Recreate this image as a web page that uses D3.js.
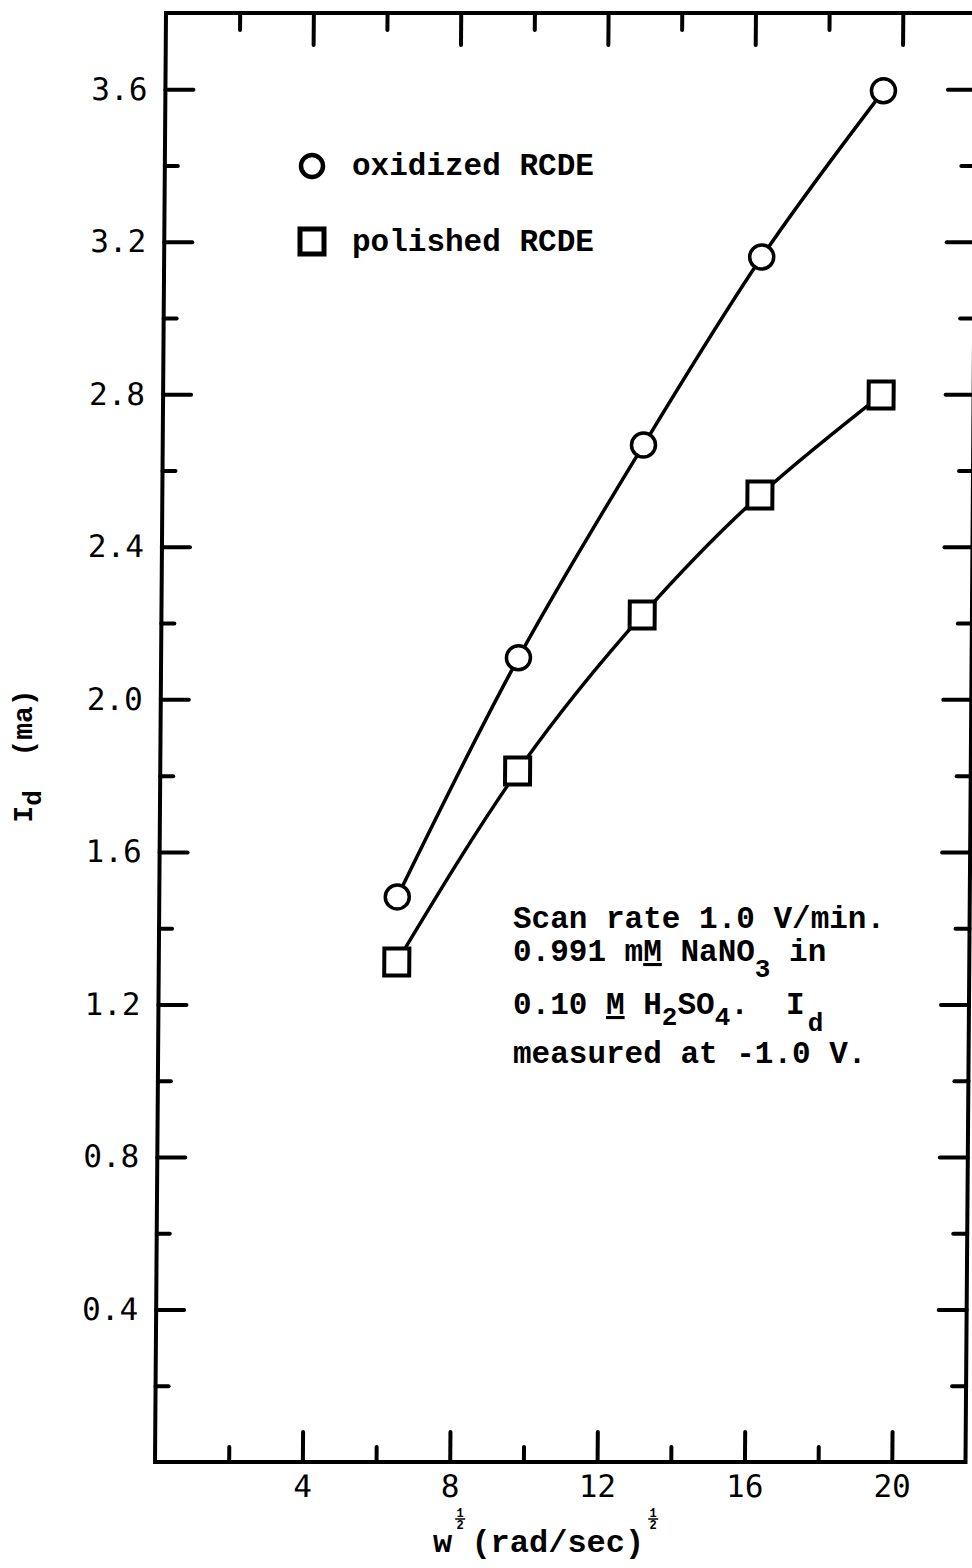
<!DOCTYPE html>
<html><head><meta charset="utf-8">
<script src="https://cdn.jsdelivr.net/npm/d3@7"></script>
<style>body{margin:0;background:#fff}</style>
</head><body><svg id="c" width="972" height="1568"></svg>
<script>
// ---- data ----
const xValues = [6.46, 9.70, 13.05, 16.22, 19.49];          // w^1/2 (rad/sec)^1/2
const oxidized = [1.482, 2.109, 2.667, 3.160, 3.596];       // I_d (ma)
const polished = [1.311, 1.812, 2.221, 2.536, 2.798];       // I_d (ma)
const xMajorTicks = [4, 8, 12, 16, 20];
const xMinorTicks = [2, 6, 10, 14, 18];
const yMajorTicks = [0.4, 0.8, 1.2, 1.6, 2.0, 2.4, 2.8, 3.2, 3.6];
const yMinorTicks = [0.2, 0.6, 1.0, 1.4, 1.8, 2.2, 2.6, 3.0, 3.4];
const legendLabels = ["oxidized RCDE", "polished RCDE"];
const noteLines = [
  [{t:"Scan rate 1.0 V/min."}],
  [{t:"0.991 m"},{t:"M",u:1},{t:" NaNO"},{t:"3",s:16},{t:" in"}],
  [{t:"0.10 "},{t:"M",u:1},{t:" H"},{t:"2",s:11},{t:"SO"},{t:"4",s:11},{t:".  I"},{t:"d",s:17,dx:3}],
  [{t:"measured at -1.0 V."}]
];

// ---- layout ----
const svg = d3.select("#c");
const L = 155, R = 965.5, T = 13, B = 1462;
const x = d3.scaleLinear().domain([0, 22]).range([L, R]);
const y = d3.scaleLinear().domain([0, 3.8]).range([B, T]);
const k = 11 / (B - T); // slight shear of the scanned page
const plot = svg.append("g").attr("transform", `matrix(1,0,${-k},1,${k*B},0)`);

const MONO = "'DejaVu Sans Mono', monospace";
const TYPE = "'Liberation Mono', 'Courier New', monospace";

function styleAxis(g){
  g.select(".domain").remove();
  g.selectAll("line").attr("stroke","#000").attr("stroke-width",4).attr("stroke-linecap","round");
  g.selectAll("text").attr("font-family",MONO).attr("font-size",31).attr("fill","#000");
}
// frame
plot.append("rect").attr("x",L).attr("y",T).attr("width",R-L).attr("height",B-T)
  .attr("fill","none").attr("stroke","#000").attr("stroke-width",4);

plot.append("g").attr("transform",`translate(0,${B})`)
  .call(d3.axisBottom(x).tickValues(xMajorTicks).tickSizeInner(-30).tickSizeOuter(0).tickPadding(13).tickFormat(d3.format("d"))).call(styleAxis);
plot.append("g").attr("transform",`translate(0,${B})`)
  .call(d3.axisBottom(x).tickValues(xMinorTicks).tickSizeInner(-15).tickSizeOuter(0).tickFormat("")).call(styleAxis);
plot.append("g").attr("transform",`translate(0,${T})`)
  .call(d3.axisTop(x).tickValues(xMajorTicks).tickSizeInner(-32).tickSizeOuter(0).tickFormat("")).call(styleAxis);
plot.append("g").attr("transform",`translate(0,${T})`)
  .call(d3.axisTop(x).tickValues(xMinorTicks).tickSizeInner(-17).tickSizeOuter(0).tickFormat("")).call(styleAxis);
plot.append("g").attr("transform",`translate(${L},0)`)
  .call(d3.axisLeft(y).tickValues(yMajorTicks).tickSizeInner(-28).tickSizeOuter(0).tickPadding(18).tickFormat(d3.format(".1f"))).call(styleAxis);
plot.append("g").attr("transform",`translate(${L},0)`)
  .call(d3.axisLeft(y).tickValues(yMinorTicks).tickSizeInner(-13).tickSizeOuter(0).tickFormat("")).call(styleAxis);
plot.append("g").attr("transform",`translate(${R},0)`)
  .call(d3.axisRight(y).tickValues(yMajorTicks).tickSizeInner(-28).tickSizeOuter(0).tickFormat("")).call(styleAxis);
plot.append("g").attr("transform",`translate(${R},0)`)
  .call(d3.axisRight(y).tickValues(yMinorTicks).tickSizeInner(-14).tickSizeOuter(0).tickFormat("")).call(styleAxis);

// lines
const line = d3.line().x((d,i)=>x(xValues[i])).y(d=>y(d)).curve(d3.curveNatural);
[oxidized, polished].forEach(s=>{
  plot.append("path").attr("d",line(s)).attr("fill","none").attr("stroke","#000").attr("stroke-width",3.5);
});
// markers
plot.selectAll(".circ").data(oxidized).join("circle")
  .attr("cx",(d,i)=>x(xValues[i])).attr("cy",d=>y(d)).attr("r",12)
  .attr("fill","#fff").attr("stroke","#000").attr("stroke-width",3.5);
plot.selectAll(".sq").data(polished).join("rect")
  .attr("x",(d,i)=>x(xValues[i])-12.5).attr("y",d=>y(d)-13.5).attr("width",25).attr("height",27)
  .attr("fill","#fff").attr("stroke","#000").attr("stroke-width",4);

// legend
const lg = svg.append("g");
lg.append("circle").attr("cx",312).attr("cy",166).attr("r",11).attr("fill","#fff").attr("stroke","#000").attr("stroke-width",4.5);
lg.append("rect").attr("x",300).attr("y",229).attr("width",24).attr("height",25).attr("fill","#fff").attr("stroke","#000").attr("stroke-width",5);
lg.selectAll("text").data(legendLabels).join("text")
  .attr("x",352).attr("y",(d,i)=>175+i*76).text(d=>d)
  .attr("font-family",TYPE).attr("font-weight","bold").attr("font-size",31).attr("fill","#000");

// annotation
const noteBase = [928, 961, 1014, 1063];
noteLines.forEach((segs, li)=>{
  const t = svg.append("text").attr("x",513).attr("y",noteBase[li]).attr("xml:space","preserve")
    .attr("font-family",TYPE).attr("font-weight","bold").attr("font-size",31).attr("fill","#000");
  let shift = 0;
  segs.forEach(sg=>{
    const sp = t.append("tspan").text(sg.t);
    const target = sg.s || 0;
    if (target !== shift) { sp.attr("dy", target - shift); shift = target; }
    if (sg.dx) sp.attr("dx", sg.dx);
    if (sg.s) sp.attr("font-size",26);
    if (sg.u) sp.style("text-decoration","underline");
  });
});

// y title
const yt = svg.append("text").attr("transform","translate(32,756) rotate(-90)").attr("text-anchor","middle")
  .attr("font-family",TYPE).attr("font-weight","bold").attr("font-size",28).attr("fill","#000")
  .attr("xml:space","preserve");
yt.append("tspan").text("I");
yt.append("tspan").text("d").attr("dy",9).attr("font-size",26);
yt.append("tspan").text("  (ma)").attr("dy",-9);

// x title
const fs = 32, cw = fs*0.6, x0 = 433, xb = 1552;
const xt = svg.append("g").attr("font-family",TYPE).attr("font-weight","bold").attr("font-size",fs).attr("fill","#000");
xt.append("text").attr("x",x0).attr("y",xb).text("w");
xt.append("text").attr("x",x0 + 2*cw).attr("y",xb).text("(rad/sec)");
function frac(cx){
  const g = svg.append("g").attr("font-family",TYPE).attr("font-weight","bold").attr("font-size",12).attr("fill","#000").attr("text-anchor","middle");
  g.append("text").attr("x",cx).attr("y",1517).text("1");
  g.append("line").attr("x1",cx-5).attr("x2",cx+5).attr("y1",1519).attr("y2",1519).attr("stroke","#000").attr("stroke-width",1.5);
  g.append("text").attr("x",cx).attr("y",1529).text("2");
}
frac(x0 + cw + 8);
frac(x0 + 11*cw + 9);
</script>
</body></html>
